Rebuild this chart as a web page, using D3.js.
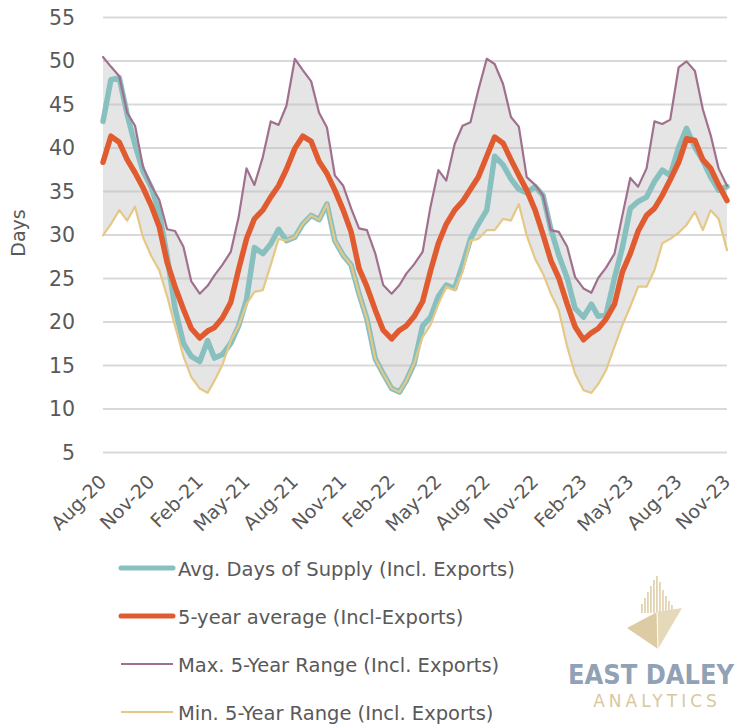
<!doctype html>
<meta charset="utf-8">
<title>Days of Supply</title>
<script src="https://cdn.jsdelivr.net/npm/d3@7"></script>
<style>
body {
  margin: 0;
  background: #fff;
}
svg {
  display: block;
  font-family: "DejaVu Sans", sans-serif;
}
</style>

<svg id="chart" width="745" height="725"></svg>

<script>
// semi-monthly samples, Aug 1 2020 .. Nov 1 2023
var dates = d3.range(79).map(function(i) {
  return new Date(Date.UTC(2020, 7 + Math.floor(i / 2), i % 2 ? 16 : 1));
});

var avgSupply = [43.0, 47.8, 48.0, 43.8, 40.3, 37.3, 35.4, 32.5, 27.5, 21.5,
  17.5, 16.0, 15.4, 17.8, 15.8, 16.2, 17.5, 19.5, 22.5, 28.5,
  27.8, 28.9, 30.6, 29.3, 29.7, 31.2, 32.2, 31.7, 33.5, 29.3,
  27.6, 26.5, 23.2, 20.3, 15.7, 14.0, 12.3, 11.9, 13.2, 15.2,
  19.5, 20.5, 22.9, 24.2, 23.8, 26.5, 29.5, 31.2, 32.8, 39.0,
  38.0, 36.4, 35.2, 34.8, 35.5, 34.5, 30.6, 27.6, 25.0, 21.5,
  20.5, 22.0, 20.6, 20.8, 25.0, 28.5, 33.0, 33.8, 34.3, 36.1,
  37.4, 36.8, 40.0, 42.2, 40.0, 38.5, 36.6, 35.1, 35.5];

var fiveYearAvg = [38.3, 41.3, 40.6, 38.6, 37.1, 35.4, 33.3, 30.9, 26.8, 24.0,
  21.4, 19.2, 18.1, 18.9, 19.3, 20.4, 22.2, 26.0, 29.5, 31.8,
  32.8, 34.3, 35.6, 37.5, 39.9, 41.3, 40.7, 38.4, 37.0, 35.1,
  32.8, 30.3, 26.1, 24.0, 21.3, 19.0, 18.0, 19.0, 19.5, 20.6,
  22.3, 25.8, 29.0, 31.2, 32.8, 33.8, 35.2, 36.6, 39.0, 41.2,
  40.5, 38.6, 36.8, 35.1, 32.8, 30.0, 27.0, 25.0, 22.0, 19.4,
  17.9, 18.7, 19.2, 20.3, 22.0, 25.7, 27.8, 30.4, 32.2, 33.0,
  34.5, 36.3, 38.3, 41.0, 40.8, 38.6, 37.6, 35.7, 33.9];

var maxRange = [50.4, 49.3, 48.2, 44.0, 42.5, 37.8, 35.6, 34.0, 30.6, 30.4,
  28.6, 24.6, 23.2, 24.1, 25.3, 26.5, 28.0, 32.0, 37.6, 35.7,
  38.9, 43.0, 42.6, 44.8, 50.2, 48.9, 47.6, 44.0, 42.3, 36.8,
  35.6, 33.0, 30.7, 30.5, 27.8, 24.2, 23.2, 24.2, 25.5, 26.6,
  28.0, 33.2, 37.4, 36.2, 40.4, 42.5, 42.9, 46.6, 50.2, 49.6,
  47.3, 43.5, 42.4, 36.6, 35.7, 34.5, 30.5, 30.3, 28.6, 25.1,
  23.8, 23.3, 25.0, 26.2, 27.8, 32.2, 36.5, 35.5, 37.6, 43.0,
  42.7, 43.2, 49.2, 49.9, 48.8, 44.4, 41.4, 37.6, 35.6];

var minRange = [29.9, 31.2, 32.8, 31.6, 33.2, 29.7, 27.5, 25.9, 22.9, 19.5,
  16.0, 13.6, 12.3, 11.8, 13.2, 15.0, 17.8, 19.5, 22.0, 23.4,
  23.6, 26.5, 29.5, 29.3, 29.7, 31.2, 32.2, 31.7, 33.5, 29.3,
  27.6, 26.5, 23.2, 20.3, 15.7, 14.0, 12.3, 11.9, 13.2, 15.2,
  18.2, 19.6, 22.0, 24.0, 23.6, 25.7, 29.3, 29.5, 30.5, 30.5,
  31.8, 31.6, 33.5, 29.9, 27.2, 25.5, 23.2, 21.3, 17.1, 14.0,
  12.1, 11.8, 12.8, 14.4, 17.1, 19.6, 21.7, 24.0, 24.0, 25.9,
  29.0, 29.5, 30.2, 31.1, 32.6, 30.5, 32.8, 31.8, 28.2];

var yTicks = [5, 10, 15, 20, 25, 30, 35, 40, 45, 50, 55];
var xTickLabels = ["Aug-20", "Nov-20", "Feb-21", "May-21", "Aug-21", "Nov-21", "Feb-22",
  "May-22", "Aug-22", "Nov-22", "Feb-23", "May-23", "Aug-23", "Nov-23"];

var legendLabels = ["Avg. Days of Supply (Incl. Exports)", "5-year average (Incl-Exports)",
  "Max. 5-Year Range (Incl. Exports)", "Min. 5-Year Range (Incl. Exports)"];

var colors = {
  supply: "#88bfbf",
  avg: "#e05b30",
  max: "#a0708e",
  min: "#e6c886",
  text: "#595959"
};

var svg = d3.select("#chart");

var x = d3.scaleUtc()
  .domain([new Date(Date.UTC(2020, 7, 1)), new Date(Date.UTC(2023, 10, 1))])
  .range([103, 727]);

var y = d3.scaleLinear()
  .domain([5, 55])
  .range([452, 17]);

var xTickDates = xTickLabels.map(function(d, k) {
  return new Date(Date.UTC(2020, 7 + 3 * k, 1));
});

// gridlines + y labels
var yAxis = svg.append("g")
  .attr("transform", "translate(103,0)")
  .call(d3.axisLeft(y).tickValues(yTicks).tickSize(-624).tickPadding(28));
yAxis.select(".domain").remove();
yAxis.selectAll(".tick line")
  .attr("stroke", "#d9d9d9")
  .attr("stroke-width", 2);
yAxis.selectAll(".tick text")
  .attr("fill", colors.text)
  .attr("font-family", "DejaVu Sans")
  .attr("font-size", 20.5)
  .attr("dy", "0.36em");

svg.append("text")
  .attr("transform", "translate(25,233) rotate(-90)")
  .attr("text-anchor", "middle")
  .attr("fill", colors.text)
  .attr("font-size", 19)
  .text("Days");

// x labels
var xAxis = svg.append("g")
  .attr("transform", "translate(0,452)")
  .call(d3.axisBottom(x).tickValues(xTickDates).tickSize(0)
    .tickFormat(function(d, k) { return xTickLabels[k]; }));
xAxis.select(".domain").remove();
xAxis.selectAll(".tick text")
  .attr("fill", colors.text)
  .attr("font-family", "DejaVu Sans")
  .attr("font-size", 19)
  .attr("text-anchor", "end")
  .attr("x", 0)
  .attr("y", 0)
  .attr("dy", 0)
  .attr("transform", "translate(4,31) rotate(-45)");

// range band
var band = d3.area()
  .x(function(d, i) { return x(dates[i]); })
  .y0(function(d, i) { return y(minRange[i]); })
  .y1(function(d, i) { return y(maxRange[i]); });

svg.append("path")
  .datum(maxRange)
  .attr("d", band)
  .attr("fill", "rgba(190,190,190,0.4)");

function lineOf(values) {
  return d3.line()
    .x(function(d, i) { return x(dates[i]); })
    .y(function(d) { return y(d); })(values);
}

var series = [
  {values: avgSupply, color: colors.supply, width: 5.5},
  {values: fiveYearAvg, color: colors.avg, width: 5.5},
  {values: maxRange, color: colors.max, width: 2.2},
  {values: minRange, color: colors.min, width: 2.2}
];

series.forEach(function(s) {
  svg.append("path")
    .attr("d", lineOf(s.values))
    .attr("fill", "none")
    .attr("stroke", s.color)
    .attr("stroke-width", s.width)
    .attr("stroke-linejoin", "round")
    .attr("stroke-linecap", "round");
});

// legend
var legend = svg.append("g");
series.forEach(function(s, k) {
  var ly = 568 + 48 * k;
  legend.append("line")
    .attr("x1", 121).attr("x2", 173)
    .attr("y1", ly).attr("y2", ly)
    .attr("stroke", s.color)
    .attr("stroke-width", s.width > 3 ? 5 : 2.2)
    .attr("stroke-linecap", s.width > 3 ? "round" : "butt");
  legend.append("text")
    .attr("x", 178)
    .attr("y", ly + 8)
    .attr("fill", colors.text)
    .attr("font-size", 19.5)
    .text(legendLabels[k]);
});

// logo
var logo = svg.append("g");
var bars = [[641, 604], [644, 598], [647, 592], [650, 586], [653, 580], [656, 576],
  [659, 582], [662, 590], [665, 596], [668, 601], [671, 605]];
bars.forEach(function(b) {
  logo.append("rect")
    .attr("x", b[0]).attr("y", b[1])
    .attr("width", 1.8).attr("height", 613 - b[1])
    .attr("fill", "#e2d4b1");
});
logo.append("polygon")
  .attr("points", "627,628 657,612 658,649")
  .attr("fill", "#ddcca3");
logo.append("polygon")
  .attr("points", "657,612 682,608 658,649")
  .attr("fill", "#e6d9b9");
logo.append("line")
  .attr("x1", 657).attr("y1", 612).attr("x2", 658).attr("y2", 649)
  .attr("stroke", "#fff").attr("stroke-width", 1);
logo.append("text")
  .attr("x", 651).attr("y", 684)
  .attr("text-anchor", "middle")
  .attr("fill", "#91a1b6")
  .attr("font-family", "DejaVu Sans")
  .attr("font-weight", "bold")
  .attr("font-size", 26)
  .attr("textLength", 166)
  .attr("lengthAdjust", "spacingAndGlyphs")
  .text("EAST DALEY");
logo.append("text")
  .attr("x", 657).attr("y", 707)
  .attr("text-anchor", "middle")
  .attr("fill", "#d8c8a0")
  .attr("font-size", 17)
  .attr("letter-spacing", 4)
  .text("ANALYTICS");
</script>
